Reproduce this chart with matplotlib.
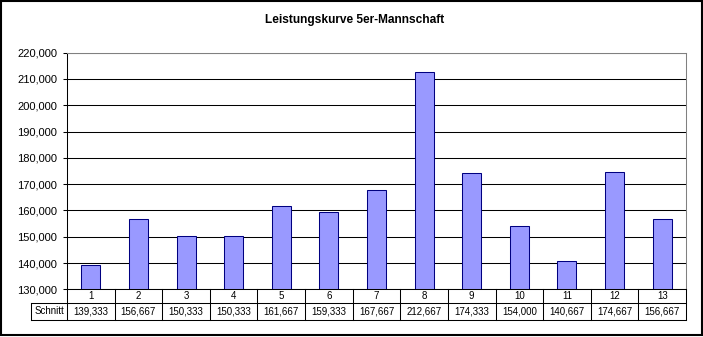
import matplotlib
matplotlib.use("Agg")
import matplotlib.pyplot as plt
from matplotlib.ticker import FuncFormatter, MultipleLocator
from matplotlib.transforms import blended_transform_factory
from matplotlib.patches import Rectangle

title = "Leistungskurve 5er-Mannschaft"
categories = ["1", "2", "3", "4", "5", "6", "7", "8", "9", "10", "11", "12", "13"]
row_label = "Schnitt"
values = [139333, 156667, 150333, 150333, 161667, 159333, 167667,
          212667, 174333, 154000, 140667, 174667, 156667]
y_min, y_max, y_step = 130000, 220000, 10000

W, H = 703, 337
plt.rcParams['font.family'] = ['Liberation Sans', 'DejaVu Sans']
fig = plt.figure(figsize=(W / 100, H / 100), dpi=100)

ax_left, ax_right, ax_top, ax_bot = 67, 686, 52.7, 289.4
ax = fig.add_axes([ax_left / W, 1 - ax_bot / H, (ax_right - ax_left) / W, (ax_bot - ax_top) / H])

x = list(range(len(categories)))
ax.bar(x, values, width=0.4, bottom=0, color="#9999FF", edgecolor="#000080",
       linewidth=0.75, zorder=2)
ax.set_xlim(-0.5, len(categories) - 0.5)
ax.set_ylim(y_min, y_max)
ax.yaxis.set_major_locator(MultipleLocator(y_step))
ax.yaxis.set_major_formatter(FuncFormatter(lambda v, p: f"{int(v):,}"))
ax.set_axisbelow(True)
ax.yaxis.grid(True, color="black", linewidth=0.75)
ax.set_xticks([])
ax.tick_params(axis="y", length=3, width=0.75, pad=4, labelsize=8)
for s in ["top", "right"]:
    ax.spines[s].set_color("#808080")
    ax.spines[s].set_linewidth(0.75)
for s in ["left", "bottom"]:
    ax.spines[s].set_color("black")
    ax.spines[s].set_linewidth(0.75)

fig.text(354.5 / W, 1 - 20.5 / H, title, ha="center", va="center",
         fontsize=8.6, fontweight="bold")

# data table below the axis
tr = blended_transform_factory(ax.transData, fig.transFigure)
fy = lambda ypx: 1 - ypx / H
fx = lambda xpx: xpx / W
y_mid, y_bottom = 303, 320
lw = 0.75
for k in range(len(categories) + 1):
    ax.plot([k - 0.5, k - 0.5], [fy(ax_bot), fy(y_bottom)], color="black",
            lw=lw, transform=tr, clip_on=False)
ax.plot([fx(31), fx(ax_right)], [fy(y_mid), fy(y_mid)], color="black", lw=lw,
        transform=fig.transFigure, clip_on=False)
ax.plot([fx(31), fx(ax_right)], [fy(y_bottom), fy(y_bottom)], color="black", lw=lw,
        transform=fig.transFigure, clip_on=False)
ax.plot([fx(31), fx(31)], [fy(y_mid), fy(y_bottom)], color="black", lw=lw,
        transform=fig.transFigure, clip_on=False)
for i, (c, v) in enumerate(zip(categories, values)):
    ax.text(i, fy((ax_bot + y_mid) / 2), c, transform=tr, ha="center",
            va="center", fontsize=7)
    ax.text(i, fy((y_mid + y_bottom) / 2), f"{v:,}", transform=tr,
            ha="center", va="center", fontsize=7)
fig.text(fx((31 + ax_left) / 2), fy((y_mid + y_bottom) / 2), row_label,
         ha="center", va="center", fontsize=7)

# outer border
fig.patches.append(Rectangle((fx(1), fy(335)), fx(701), (335 - 1) / H,
                             transform=fig.transFigure, fill=False,
                             edgecolor="black", linewidth=1.5))

fig.savefig("out.png", dpi=100)
